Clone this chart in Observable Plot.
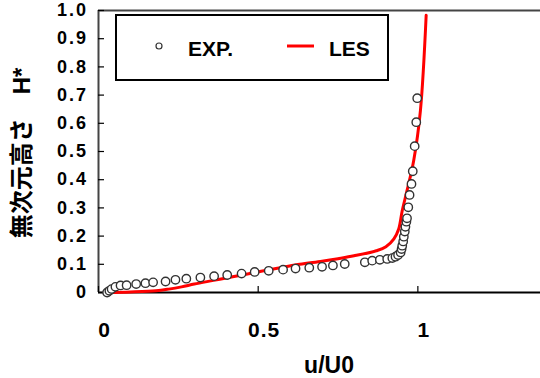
<!DOCTYPE html>
<html><head><meta charset="utf-8">
<script src="https://cdn.jsdelivr.net/npm/d3@7"></script>
<script src="https://cdn.jsdelivr.net/npm/@observablehq/plot@0.6"></script>
<style>
html,body{margin:0;padding:0;background:#fff;overflow:hidden}
</style></head><body><div id="chart"></div>
<script>
const expU = [0.027,0.034,0.041,0.053,0.069,0.088,0.118,0.147,0.171,0.210,0.241,0.275,0.319,0.362,0.403,0.448,0.489,0.533,0.578,0.617,0.660,0.700,0.734,0.771,0.834,0.857,0.881,0.904,0.920,0.930,0.938,0.946,0.949,0.951,0.954,0.956,0.959,0.961,0.964,0.966,0.970,0.974,0.980,0.984,0.990,0.995,0.998];
const expH = [0.000,0.006,0.012,0.020,0.025,0.026,0.030,0.033,0.036,0.039,0.045,0.049,0.053,0.058,0.062,0.067,0.073,0.077,0.081,0.085,0.088,0.091,0.096,0.101,0.107,0.113,0.116,0.119,0.122,0.127,0.133,0.142,0.154,0.166,0.181,0.198,0.216,0.233,0.251,0.263,0.302,0.346,0.385,0.430,0.519,0.604,0.689];
const lesU = [0.02,0.10,0.18,0.22,0.26,0.30,0.36,0.42,0.49,0.56,0.63,0.70,0.75,0.80,0.87,0.90,0.925,0.94,0.951,0.966,0.987,1.008,1.026];
const lesH = [0.0,0.002,0.006,0.012,0.020,0.030,0.043,0.056,0.071,0.086,0.100,0.111,0.120,0.130,0.148,0.162,0.190,0.225,0.290,0.361,0.468,0.645,0.983];
const xTicks = [0, 0.5, 1];
const xTickLabels = ["0", "0.5", "1"];
const yTicks = [0, 0.1, 0.2, 0.3, 0.4, 0.5, 0.6, 0.7, 0.8, 0.9, 1.0];
const yTickLabels = ["0", "0.1", "0.2", "0.3", "0.4", "0.5", "0.6", "0.7", "0.8", "0.9", "1.0"];
const xTitle = "u/U0";
const yTitle = "無次元高さ　H*";
const legendLabels = ["EXP.", "LES"];

const exp = expU.map((u, i) => ({u, h: expH[i]}));
const les = lesU.map((u, i) => ({u, h: lesH[i]}));

const font = "'Liberation Sans', Arial, 'Noto Sans CJK JP', sans-serif";

const chart = Plot.plot({
  width: 540, height: 378,
  marginLeft: 98, marginRight: 0, marginTop: 10, marginBottom: 86,
  style: {fontFamily: font, background: "white", color: "black", overflow: "visible"},
  x: {domain: [0, 1.384]},
  y: {domain: [0, 1]},
  marks: [
    Plot.ruleY([0], {stroke: "black", strokeWidth: 2}),
    Plot.ruleY([1], {stroke: "#444", strokeWidth: 2}),
    Plot.ruleX([0], {stroke: "#444", strokeWidth: 2}),
    Plot.axisY(yTicks, {tickSize: -6, tickFormat: () => "", label: null, strokeWidth: 1.2}),
    Plot.axisY(yTicks, {tickSize: 0, tickPadding: 10.5, tickFormat: d => yTickLabels[yTicks.indexOf(d)], fontSize: 18, fontWeight: "bold", label: null}),
    Plot.axisX(xTicks, {tickSize: -6, tickFormat: () => "", label: null, strokeWidth: 1.2}),
    Plot.axisX(xTicks, {tickSize: 0, tickPadding: 30, dx: 6, tickFormat: d => xTickLabels[xTicks.indexOf(d)], fontSize: 21, fontWeight: "bold", label: null}),
    Plot.line(les, {x: "u", y: "h", stroke: "red", strokeWidth: 3, curve: "catmull-rom"}),
    Plot.dot(exp, {x: "u", y: "h", r: 4.2, stroke: "#333", strokeWidth: 1.4, fill: "white"})
  ]
});
document.getElementById("chart").appendChild(chart);

const svg = d3.select(chart);
svg.selectAll('g[aria-label="y-axis tick label"] text').style("letter-spacing", "2px");
svg.selectAll('g[aria-label="x-axis tick label"] text').style("letter-spacing", "1px");

// axis titles
svg.append("text").text(xTitle)
  .attr("x", 329).attr("y", 373).attr("text-anchor", "middle")
  .attr("font-size", 23).attr("font-weight", "bold").attr("font-family", font).attr("fill", "black");
svg.append("text").text(yTitle)
  .attr("transform", "translate(21,153) rotate(-90)")
  .attr("text-anchor", "middle").attr("dominant-baseline", "central")
  .attr("font-size", 24).attr("font-weight", "bold").attr("font-family", font).attr("fill", "black");

// legend
const lg = svg.append("g").attr("text-anchor", "start");
lg.append("rect").attr("x", 116).attr("y", 15).attr("width", 272).attr("height", 65)
  .attr("fill", "white").attr("stroke", "black").attr("stroke-width", 2);
lg.append("circle").attr("cx", 159).attr("cy", 46).attr("r", 3)
  .attr("fill", "white").attr("stroke", "#333").attr("stroke-width", 1.2);
lg.append("text").text(legendLabels[0]).attr("x", 188).attr("y", 56).attr("text-anchor", "start")
  .attr("font-size", 21).attr("font-weight", "bold").attr("font-family", font).attr("fill", "black");
lg.append("line").attr("x1", 287).attr("x2", 314).attr("y1", 46).attr("y2", 46)
  .attr("stroke", "red").attr("stroke-width", 3);
lg.append("text").text(legendLabels[1]).attr("x", 329).attr("y", 56).attr("text-anchor", "start")
  .attr("font-size", 21).attr("font-weight", "bold").attr("font-family", font).attr("fill", "black");
</script>
</body></html>
